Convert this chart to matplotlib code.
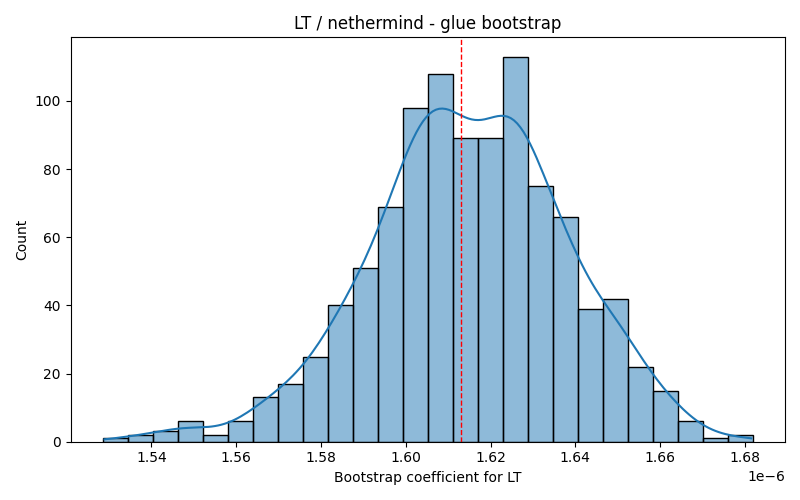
import numpy as np
import matplotlib
matplotlib.use("Agg")
import matplotlib.pyplot as plt
import seaborn as sns

# bin range and counts (x in units of 1e-6)
x_min = 1.5286e-6
x_max = 1.6818e-6
counts = [1, 2, 3, 6, 2, 6, 13, 17, 25, 40, 51, 69, 98, 108,
          89, 89, 113, 75, 66, 39, 42, 22, 15, 6, 1, 2]
mean_coef = 1.6130e-6

edges = np.linspace(x_min, x_max, len(counts) + 1)
centers = (edges[:-1] + edges[1:]) / 2
samples = np.repeat(centers, counts)

fig, ax = plt.subplots(figsize=(8, 5))
sns.histplot(x=samples, bins=edges, kde=True, ax=ax,
             kde_kws={"cut": 0.45})
ax.axvline(mean_coef, color="red", linestyle="--", linewidth=1)

ax.set_title("LT / nethermind - glue bootstrap")
ax.set_xlabel("Bootstrap coefficient for LT")
ax.set_ylabel("Count")

plt.tight_layout()
fig.savefig("out.png", dpi=100)
plt.close(fig)
